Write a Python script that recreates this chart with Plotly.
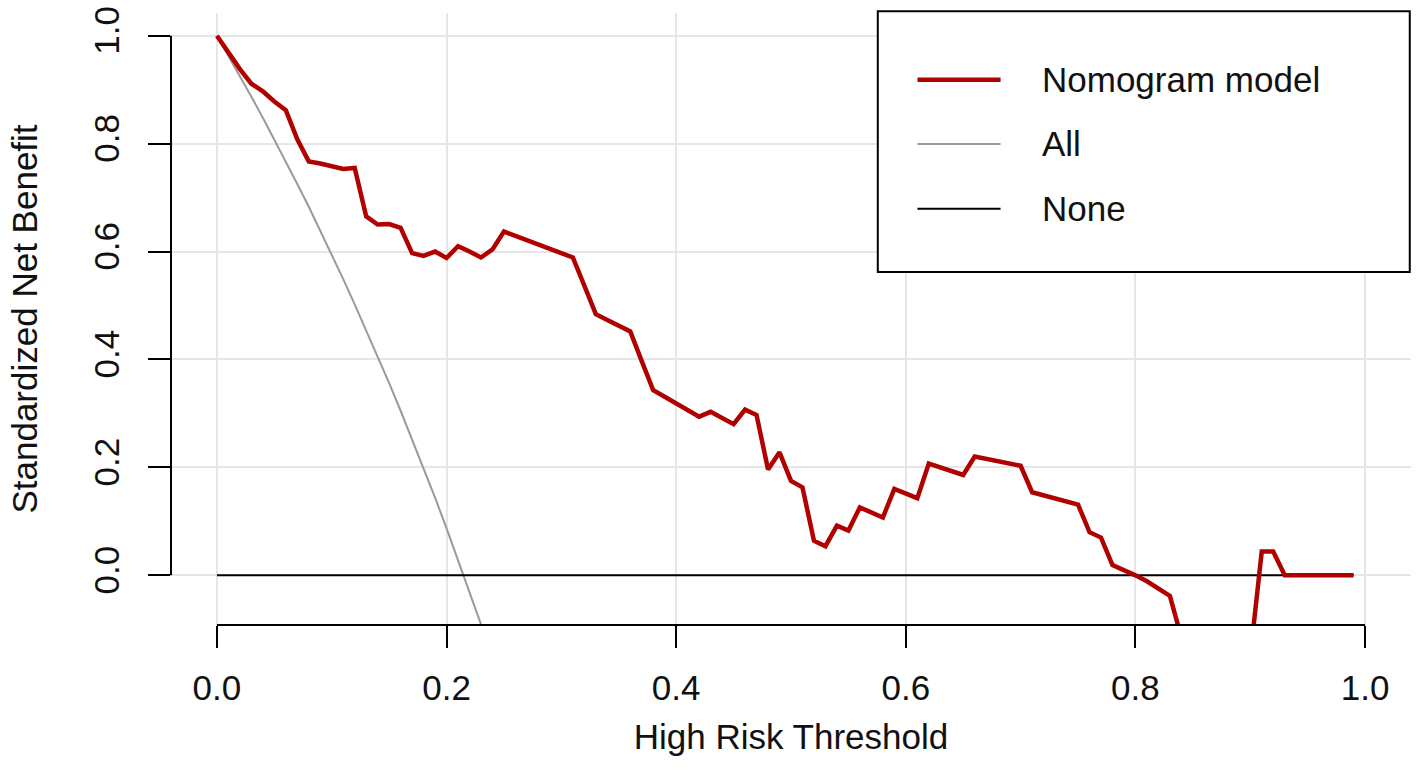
import plotly.graph_objects as go

# ---------------- data ----------------
thresholds = [0.00, 0.01, 0.02, 0.03, 0.04, 0.05, 0.06, 0.07, 0.08, 0.09,
              0.10, 0.11, 0.12, 0.13, 0.14, 0.15, 0.16, 0.17, 0.18, 0.19,
              0.20, 0.21, 0.22, 0.23, 0.24, 0.25, 0.26, 0.27, 0.28, 0.29,
              0.30, 0.31, 0.32, 0.33, 0.34, 0.35, 0.36, 0.37, 0.38, 0.39,
              0.40, 0.41, 0.42, 0.43, 0.44, 0.45, 0.46, 0.47, 0.48, 0.49,
              0.50, 0.51, 0.52, 0.53, 0.54, 0.55, 0.56, 0.57, 0.58, 0.59,
              0.60, 0.61, 0.62, 0.63, 0.64, 0.65, 0.66, 0.67, 0.68, 0.69,
              0.70, 0.71, 0.72, 0.73, 0.74, 0.75, 0.76, 0.77, 0.78, 0.79,
              0.80, 0.81, 0.82, 0.83, 0.84, 0.85, 0.86, 0.87, 0.88, 0.89,
              0.90, 0.91, 0.92, 0.93, 0.94, 0.95, 0.96, 0.97, 0.98, 0.99]

model_nb = [1.000, 0.968, 0.938, 0.911, 0.897, 0.878, 0.862, 0.808, 0.767, 0.763,
            0.759, 0.753, 0.755, 0.665, 0.650, 0.651, 0.644, 0.597, 0.592, 0.600,
            0.588, 0.610, 0.600, 0.589, 0.604, 0.637, 0.629, 0.621, 0.613, 0.605,
            0.597, 0.589, 0.537, 0.484, 0.473, 0.463, 0.452, 0.397, 0.343, 0.331,
            0.318, 0.306, 0.294, 0.303, 0.292, 0.280, 0.307, 0.297, 0.196, 0.228,
            0.175, 0.163, 0.064, 0.054, 0.092, 0.083, 0.126, 0.117, 0.107, 0.160,
            0.151, 0.143, 0.207, 0.200, 0.193, 0.186, 0.220, 0.216, 0.211, 0.207,
            0.203, 0.154, 0.148, 0.142, 0.137, 0.131, 0.080, 0.070, 0.019, 0.010,
            0.000, -0.011, -0.024, -0.038, -0.115, -0.180, -0.220, -0.250, -0.220, -0.190,
            -0.150, 0.044, 0.044, 0.000, 0.000, 0.000, 0.000, 0.000, 0.000, 0.000]

all_thresholds = [0.00, 0.01, 0.02, 0.03, 0.04, 0.05, 0.06, 0.07, 0.08, 0.09,
                  0.10, 0.11, 0.12, 0.13, 0.14, 0.15, 0.16, 0.17, 0.18, 0.19,
                  0.20, 0.21, 0.22, 0.23, 0.24]
all_nb = [1.000, 0.963, 0.925, 0.887, 0.848, 0.808, 0.767, 0.725, 0.683, 0.639,
          0.594, 0.549, 0.502, 0.454, 0.406, 0.356, 0.305, 0.252, 0.199, 0.144,
          0.087, 0.029, -0.030, -0.091, -0.153]

none_thresholds = [0.00, 0.99]
none_nb = [0.0, 0.0]

series_names = ["Nomogram model", "All", "None"]
series_colors = ["#b00000", "#9a9a9a", "#000000"]
series_widths = [4.5, 2, 2]

x_ticks = [0.0, 0.2, 0.4, 0.6, 0.8, 1.0]
x_ticklabels = ["0.0", "0.2", "0.4", "0.6", "0.8", "1.0"]
y_ticks = [0.0, 0.2, 0.4, 0.6, 0.8, 1.0]
y_ticklabels = ["0.0", "0.2", "0.4", "0.6", "0.8", "1.0"]

FONT = "Liberation Sans, Arial, Helvetica, sans-serif"
FS = 35
TXT = "#111111"

fig = go.Figure()
xs = [thresholds, all_thresholds, none_thresholds]
ys = [model_nb, all_nb, none_nb]
order = [1, 2, 0]
for i in order:
    fig.add_trace(go.Scatter(
        x=xs[i], y=ys[i], mode="lines", name=series_names[i],
        line=dict(color=series_colors[i], width=series_widths[i]),
        showlegend=False, hoverinfo="skip"))

# R-style axis lines (only spanning the tick range)
shapes = [
    dict(type="line", xref="x", yref="paper", x0=0, x1=1, y0=0, y1=0,
         line=dict(color="black", width=2)),
    dict(type="line", xref="paper", yref="y", x0=0, x1=0, y0=0, y1=1,
         line=dict(color="black", width=2)),
]

# legend box
lx0, lx1, ly0, ly1 = 0.570, 0.999, 0.577, 1.003
shapes.append(dict(type="rect", xref="paper", yref="paper", x0=lx0, x1=lx1,
                   y0=ly0, y1=ly1, fillcolor="white",
                   line=dict(color="black", width=2), layer="above"))
annotations = []
row_y = [0.891, 0.786, 0.680]
for k in range(3):
    shapes.append(dict(type="line", xref="paper", yref="paper", x0=0.602, x1=0.669,
                       y0=row_y[k], y1=row_y[k],
                       line=dict(color=series_colors[k], width=series_widths[k]),
                       layer="above"))
    annotations.append(dict(xref="paper", yref="paper", x=0.701, y=row_y[k],
                            xanchor="left", yanchor="middle", showarrow=False,
                            text=series_names[k],
                            font=dict(family=FONT, size=FS, color=TXT)))

fig.update_layout(
    width=1417, height=770,
    margin=dict(l=171, r=6, t=10, b=145),
    paper_bgcolor="white", plot_bgcolor="white",
    font=dict(family=FONT, size=FS, color=TXT),
    shapes=shapes, annotations=annotations,
    xaxis=dict(range=[-0.04, 1.04], tickvals=x_ticks, ticktext=x_ticklabels,
               ticks="outside", ticklen=22, tickwidth=2, tickcolor="black",
               ticklabelstandoff=10,
               showline=False, zeroline=False, showgrid=True,
               gridcolor="#e6e6e6", gridwidth=2,
               tickfont=dict(size=FS),
               title=dict(text="High Risk Threshold", font=dict(size=FS), standoff=18)),
    yaxis=dict(range=[-0.092, 1.042], tickvals=y_ticks, ticktext=y_ticklabels,
               ticks="outside", ticklen=22, tickwidth=2, tickcolor="black",
               tickangle=-90, ticklabelstandoff=15,
               showline=False, zeroline=False, showgrid=True,
               gridcolor="#e6e6e6", gridwidth=2,
               tickfont=dict(size=FS),
               title=dict(text="Standardized Net Benefit", font=dict(size=FS), standoff=38)),
)

fig.write_html("out.html", config={"displayModeBar": False},
               post_script="document.body.style.margin='0';")
